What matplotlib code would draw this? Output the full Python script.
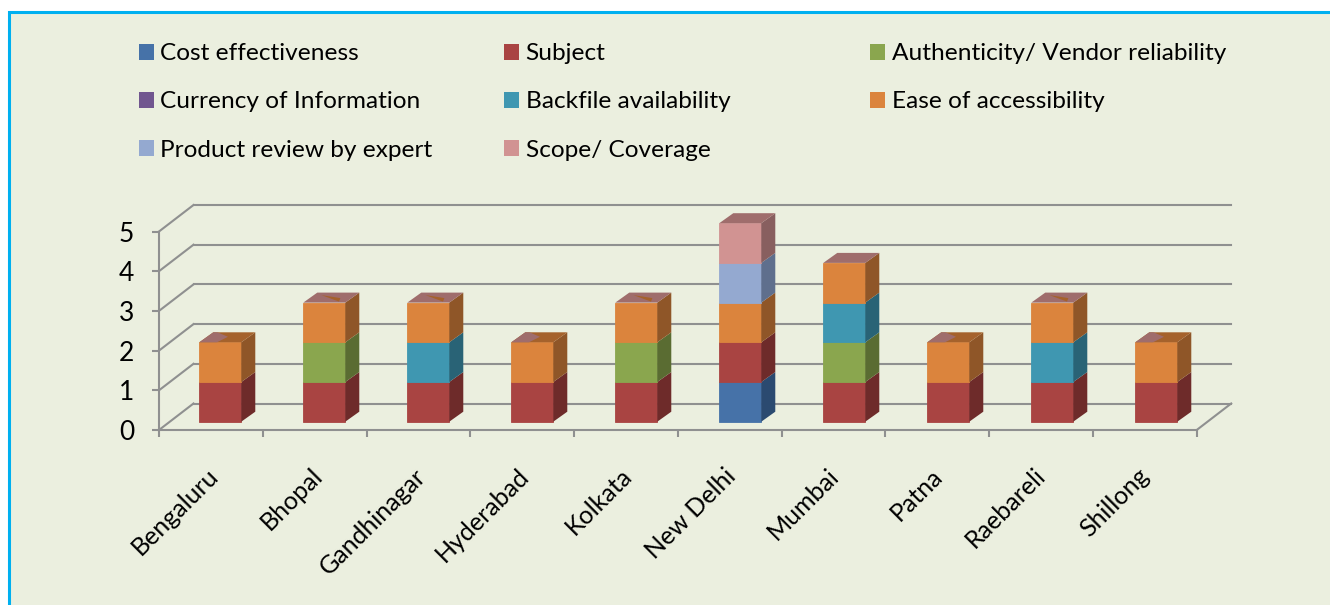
import matplotlib
matplotlib.use("Agg")
import matplotlib.pyplot as plt
from matplotlib.patches import Rectangle
from matplotlib.transforms import Affine2D

plt.rcParams['font.family'] = ['Lato', 'DejaVu Sans']

cities = ['Bengaluru', 'Bhopal', 'Gandhinagar', 'Hyderabad', 'Kolkata',
          'New Delhi', 'Mumbai', 'Patna', 'Raebareli', 'Shillong']
y_ticks = [0, 1, 2, 3, 4, 5]

# one row per criterion, in stacking order
cost = [0, 0, 0, 0, 0, 1, 0, 0, 0, 0]
subject = [1, 1, 1, 1, 1, 1, 1, 1, 1, 1]
authenticity = [0, 1, 0, 0, 1, 0, 1, 0, 0, 0]
currency = [0, 0, 0, 0, 0, 0, 0, 0, 0, 0]
backfile = [0, 0, 1, 0, 0, 0, 1, 0, 1, 0]
ease = [1, 1, 1, 1, 1, 1, 1, 1, 1, 1]
product = [0, 0, 0, 0, 0, 1, 0, 0, 0, 0]
scope = [0, 0, 0, 0, 0, 1, 0, 0, 0, 0]

series = [cost, subject, authenticity, currency, backfile, ease, product, scope]
names = ['Cost effectiveness', 'Subject', 'Authenticity/ Vendor reliability',
         'Currency of Information', 'Backfile availability', 'Ease of accessibility',
         'Product review by expert', 'Scope/ Coverage']
front = ['#4672A8', '#A94442', '#8AA64E', '#71568F', '#3F97B1', '#DB843D', '#94A9D0', '#D19392']
side = ['#2B4A70', '#6E2B2A', '#5A6C32', '#4A3860', '#296376', '#8F5628', '#5F6F8D', '#885F5F']
cap_mauve = '#9F6D6C'
cap_brown = '#A5622C'
grid = '#8F9090'
bg = '#EBEFDF'

W, H = 1330, 605
LEFT, RIGHT, BOTTOM, TOP = 159, 1196.7, 430, 231.5
px_x = (RIGHT - LEFT) / 10
px_y = (BOTTOM - TOP) / 5

fig = plt.figure(figsize=(W / 100, H / 100), dpi=100, facecolor='white')
panel = Rectangle((9 / W, -0.1), 1.1, 1.1 - 12 / H, transform=fig.transFigure,
                  facecolor=bg, edgecolor='#00B0F0', linewidth=2.2, zorder=-5)
fig.patches.append(panel)

ax = fig.add_axes([LEFT / W, 1 - BOTTOM / H, (RIGHT - LEFT) / W, (BOTTOM - TOP) / H])
ax.patch.set_visible(False)
ax.set_xlim(0, 10)
ax.set_ylim(0, 5)

# walls: depth lines and back grid lines
dx = 34.5 / px_x
dy = 26.5 / px_y
for v in y_ticks:
    ax.plot([0, dx], [v, v + dy], color=grid, lw=1.5, clip_on=False, zorder=1)
    ax.plot([dx, 10 + dx], [v + dy, v + dy], color=grid, lw=1.5, clip_on=False, zorder=1)
ax.plot([10, 10 + dx], [0, dy], color=grid, lw=1.5, clip_on=False, zorder=1)

# bars stand a bit behind the front edge of the floor
shift = ax.transData + Affine2D().translate(9.4, 8.3)
bar_w = 42 / px_x
side_x = 14 / px_x
side_y = 10 / px_y
pitch = 104 / px_x

for i in range(len(cities)):
    x = 0.5 + i * pitch
    left = x - bar_w / 2
    right = x + bar_w / 2
    base = 0
    n_parts = 0
    for s, values in enumerate(series):
        v = values[i]
        if v == 0:
            continue
        ax.bar(x, v, bar_w, bottom=base, color=front[s], edgecolor=front[s], linewidth=0.6,
               transform=shift, zorder=3, clip_on=False)
        ax.fill([right, right + side_x, right + side_x, right],
                [base, base + side_y, base + v + side_y, base + v],
                color=side[s], lw=0, transform=shift, zorder=3, clip_on=False)
        base += v
        n_parts += 1
    # top face, the flat zero-height series fight with the orange here
    top_x = [left, right, right + side_x, left + side_x]
    top_y = [base, base, base + side_y, base + side_y]
    if n_parts == 2:
        ax.fill(top_x, top_y, color=cap_brown, lw=0, transform=shift, zorder=3, clip_on=False)
        ax.fill([left, left + bar_w * 0.42, left + side_x + bar_w * 0.35, left + side_x + bar_w * 0.1, left + side_x],
                [base, base, base + side_y * 0.55, base + side_y, base + side_y],
                color=cap_mauve, lw=0, transform=shift, zorder=4, clip_on=False)
    else:
        ax.fill(top_x, top_y, color=cap_mauve, lw=0, transform=shift, zorder=3, clip_on=False)
        if n_parts == 3:
            ax.fill([left + side_x + bar_w * 0.1, left + side_x + bar_w * 0.55, left + bar_w * 0.85],
                    [base + side_y * 0.75, base + side_y * 0.45, base + side_y * 0.1],
                    color=cap_brown, lw=0, transform=shift, zorder=4, clip_on=False)

for name in ['top', 'right']:
    ax.spines[name].set_visible(False)
for name in ['left', 'bottom']:
    ax.spines[name].set_color(grid)
    ax.spines[name].set_linewidth(1.5)

ax.set_yticks(y_ticks)
ax.set_xticks(range(11))
ax.set_xticklabels([])
ax.set_xticks([0.46 + i * 0.996 for i in range(10)], minor=True)
ax.set_xticklabels(cities, minor=True, rotation=45, ha='right', rotation_mode='anchor', fontsize=18)
ax.tick_params(axis='x', which='major', length=5, width=1.5, color=grid)
ax.tick_params(axis='x', which='minor', length=0, pad=24.5)
ax.tick_params(axis='y', length=5, width=1.5, color=grid, labelsize=19, pad=13)

# legend, laid out row by row as in the source
col_x = [139, 504, 870]
row_y = [52, 100, 148]
for k, name in enumerate(names):
    cx = col_x[k % 3]
    cy = row_y[k // 3]
    fig.patches.append(Rectangle((cx / W, 1 - (cy + 7.5) / H), 15 / W, 15 / H,
                                 transform=fig.transFigure, facecolor=front[k], edgecolor='none'))
    fig.text((cx + 21.5) / W, 1 - (cy + 2) / H, name, fontsize=17.6, color='black', va='center', ha='left')

fig.savefig('out.png', dpi=100, facecolor='white')
